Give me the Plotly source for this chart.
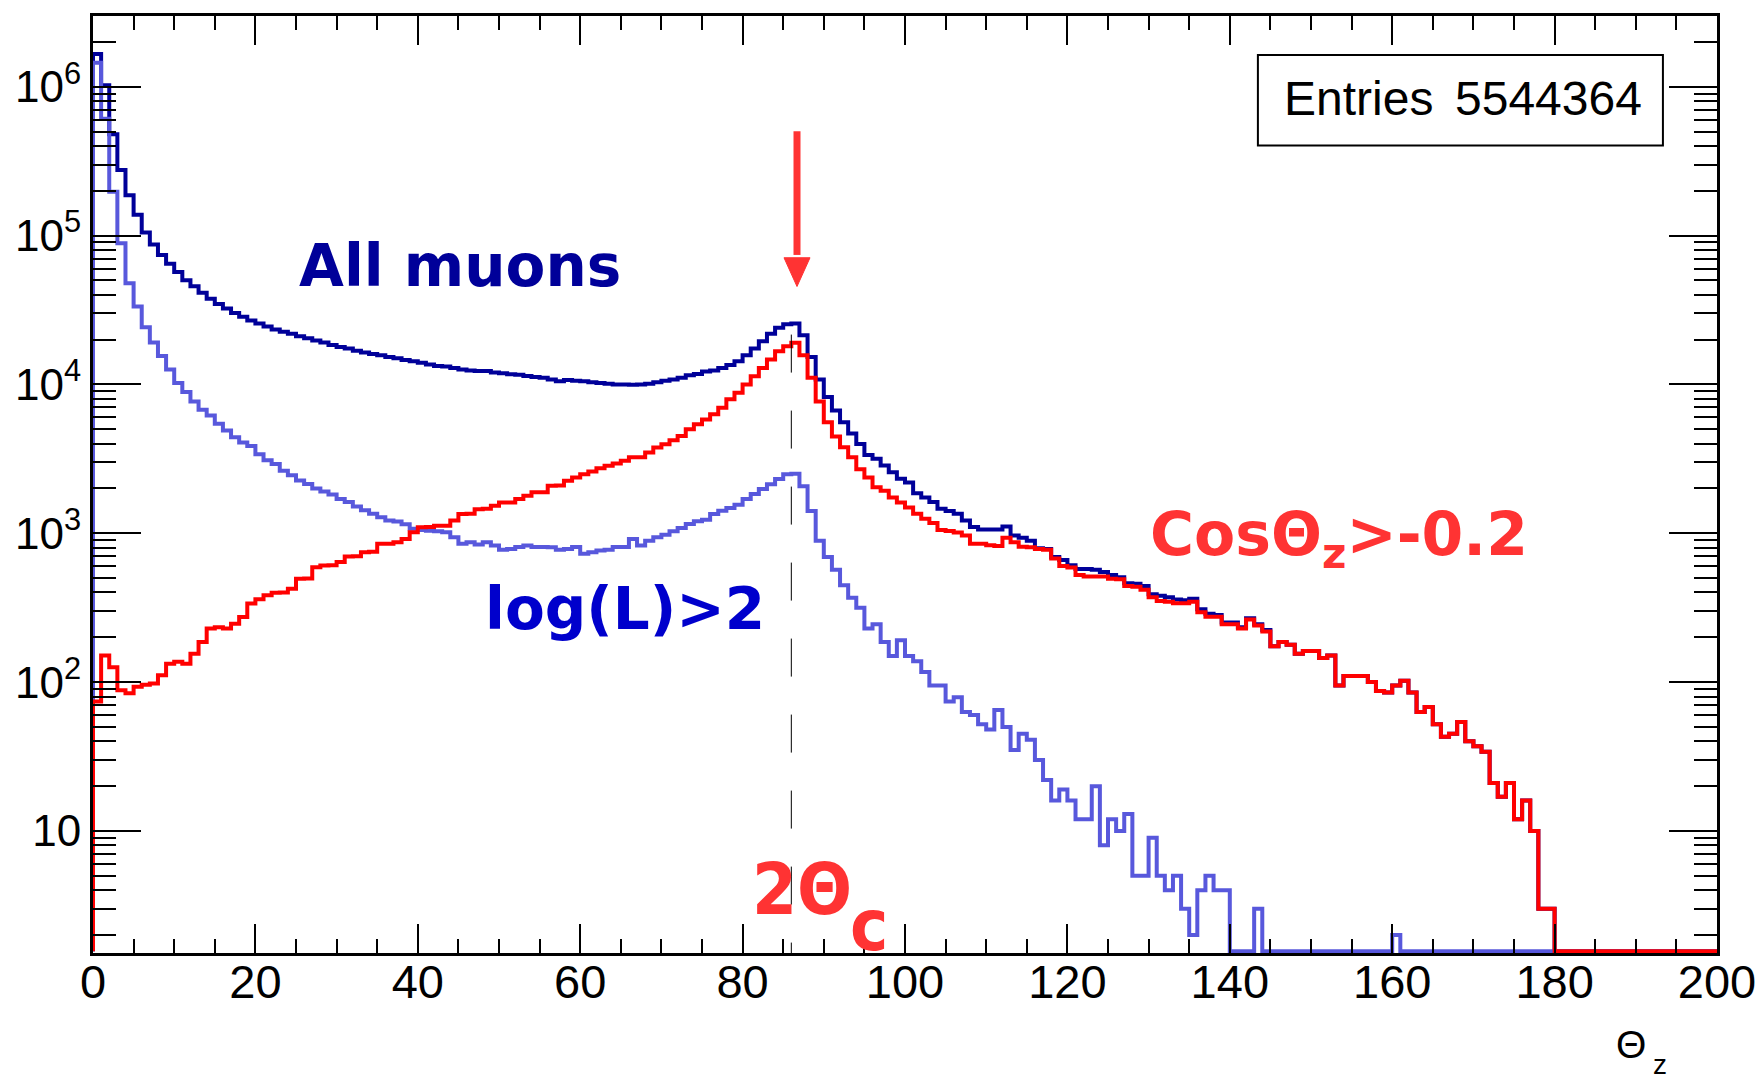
import numpy as np
import plotly.graph_objects as go

# ---------------- data (1-degree bins from 0 to 200) ----------------
theta_min = 0
theta_max = 200
n_bins = 200

# All muons (dark blue)
all_muons = [
    1660000, 1023000, 478600, 275400, 186200, 138000, 104700, 87100, 74100, 64600,
    56900, 50100, 45700, 41200, 37600, 34700, 32400, 30200, 28500, 26900,
    25700, 24500, 23400, 22600, 21900, 21100, 20400, 19700, 19100, 18400,
    17800, 17400, 16800, 16400, 16000, 15700, 15300, 15000, 14600, 14300,
    14000, 13600, 13300, 13200, 12900, 12600, 12400, 12300, 12300, 12000,
    11900, 11700, 11600, 11400, 11200, 11100, 10800, 10500, 10700, 10600,
    10500, 10350, 10200, 10100, 10000, 10000, 9950, 10000, 10100, 10350,
    10600, 10800, 11100, 11500, 11750, 12200, 12400, 12900, 13500, 14300,
    15700, 17400, 19500, 21900, 24000, 25400, 25700, 21400, 15300, 10800,
    8220, 6680, 5560, 4680, 3980, 3350, 3160, 2850, 2570, 2320,
    2190, 1860, 1740, 1620, 1460, 1410, 1350, 1220, 1100, 1060,
    1060, 1060, 1110, 966, 933, 891, 794, 785, 692, 661,
    610, 575, 575, 569, 550, 525, 507, 462, 457, 442,
    389, 380, 372, 359, 355, 363, 309, 288, 282, 251,
    251, 234, 269, 245, 224, 174, 186, 178, 155, 162,
    162, 145, 151, 95, 110, 110, 110, 100, 87, 85,
    95, 102, 85, 63, 68, 52, 43, 45, 54, 40,
    37, 34, 21, 17, 21, 12, 16, 10, 3, 3,
    0, 0, 0, 0, 0, 0, 0, 0, 0, 0,
    0, 0, 0, 0, 0, 0, 0, 0, 0, 0,
]

# log(L)>2 (light blue)
logl_cut = [
    1450000, 610000, 197000, 88700, 47900, 33400, 24200, 19100, 15500, 12600,
    10200, 8900, 7670, 6760, 6170, 5430, 4900, 4420, 4070, 3850,
    3390, 3090, 2920, 2630, 2450, 2260, 2140, 2000, 1905, 1820,
    1700, 1620, 1510, 1430, 1350, 1280, 1220, 1200, 1150, 1070,
    1050, 1040, 1030, 1016, 940, 851, 871, 839, 871, 828,
    776, 785, 807, 828, 807, 807, 804, 776, 785, 807,
    728, 746, 766, 776, 807, 807, 916, 828, 891, 940,
    977, 1030, 1086, 1156, 1202, 1230, 1349, 1419, 1479, 1556,
    1698, 1832, 1982, 2138, 2312, 2495, 2512, 2065, 1413, 891,
    692, 569, 447, 369, 316, 229, 245, 186, 150, 191,
    150, 138, 117, 95, 95, 74, 79, 63, 60, 52,
    48, 65, 50, 35, 45, 41, 30, 22, 16, 19,
    16, 12, 12, 20, 8, 12, 10, 13, 5, 5,
    9, 5, 4, 5, 3, 2, 4, 5, 4, 4,
    0, 0, 0, 3, 0, 0, 0, 0, 0, 0,
    0, 0, 0, 0, 0, 0, 0, 0, 0, 0,
    2, 0, 0, 0, 0, 0, 0, 0, 0, 0,
    0, 0, 0, 0, 0, 0, 0, 0, 0, 0,
    0, 0, 0, 0, 0, 0, 0, 0, 0, 0,
    0, 0, 0, 0, 0, 0, 0, 0, 0, 0,
]

# CosTheta_z > -0.2 (red)
cos_cut = [
    74, 151, 126, 88, 84, 93, 96, 98, 111, 133,
    137, 133, 155, 186, 229, 234, 229, 247, 274, 337,
    360, 383, 398, 400, 424, 494, 496, 592, 607, 610,
    640, 698, 700, 746, 750, 849, 851, 871, 916, 1016,
    1097, 1100, 1122, 1124, 1216, 1349, 1350, 1450, 1462, 1531,
    1611, 1612, 1698, 1786, 1884, 1885, 2089, 2090, 2254, 2371,
    2495, 2600, 2735, 2838, 2944, 3069, 3236, 3240, 3491, 3767,
    3963, 4217, 4508, 5000, 5395, 5821, 6295, 6966, 7943, 8790,
    10000, 11350, 12910, 14690, 16710, 18030, 19010, 15670, 11070, 7670,
    5560, 4470, 3780, 3240, 2690, 2370, 2040, 1930, 1740, 1610,
    1490, 1350, 1250, 1170, 1050, 1035, 1010, 966, 851, 851,
    832, 822, 933, 871, 813, 804, 785, 776, 676, 603,
    589, 525, 513, 513, 513, 495, 490, 442, 437, 417,
    372, 351, 347, 339, 339, 347, 295, 275, 275, 245,
    245, 229, 263, 240, 219, 174, 186, 178, 155, 162,
    162, 145, 151, 95, 110, 110, 110, 100, 87, 85,
    95, 102, 85, 63, 68, 52, 43, 45, 54, 40,
    37, 34, 21, 17, 21, 12, 16, 10, 3, 3,
    0, 0, 0, 0, 0, 0, 0, 0, 0, 0,
    0, 0, 0, 0, 0, 0, 0, 0, 0, 0,
]

entries = 5544364
x_tick_vals = [0, 20, 40, 60, 80, 100, 120, 140, 160, 180, 200]
y_tick_vals = [10, 100, 1000, 10000, 100000, 1000000]
y_tick_text = ["10", "10<sup>2</sup>", "10<sup>3</sup>", "10<sup>4</sup>",
               "10<sup>5</sup>", "10<sup>6</sup>"]
two_theta_c = 86.0      # dashed marker position (deg)
arrow_theta = 86.7      # red arrow position (deg)

# ---------------- styling ----------------
NAVY = "#000099"
LIGHT = "#5858dc"
RED = "#ff0000"
TXT_RED = "#ff3333"
TXT_BLUE = "#0000cc"

ylog_lo, ylog_hi = 0.18, 6.475
floor_val = 10 ** (ylog_lo + 0.012)
bw = (theta_max - theta_min) / n_bins


def step(vals):
    v = np.maximum(np.asarray(vals, float), floor_val)
    x = np.concatenate([[theta_min], theta_min + bw * np.arange(n_bins), [theta_max]])
    y = np.concatenate([[floor_val], v, [v[-1]]])
    return x, y


fig = go.Figure()
for vals, col in [(all_muons, NAVY), (logl_cut, LIGHT), (cos_cut, RED)]:
    x, y = step(vals)
    fig.add_trace(go.Scatter(x=x, y=y, mode="lines", line_shape="hv",
                             line=dict(color=col, width=4), hoverinfo="skip"))

minor_y = [k * 10 ** d for d in range(0, 7) for k in range(2, 10)
           if ylog_lo < np.log10(k * 10 ** d) < ylog_hi]

HELV = "Liberation Sans, Arial, sans-serif"

fig.update_layout(
    width=1755, height=1072, autosize=False,
    margin=dict(l=85, r=46, t=5, b=126.5, pad=0),
    paper_bgcolor="white", plot_bgcolor="white", showlegend=False,
    xaxis=dict(range=[theta_min, theta_max], tickmode="array", tickvals=x_tick_vals,
               ticktext=[str(v) for v in x_tick_vals],
               ticks="inside", ticklen=29, tickwidth=2, tickcolor="black",
               showline=True, linecolor="black", linewidth=3, mirror="allticks",
               showgrid=False, zeroline=False, ticklabelstandoff=-14,
               tickfont=dict(family=HELV, size=47, color="black"),
               minor=dict(dtick=5, tick0=0, ticks="inside", ticklen=14, tickwidth=2,
                          tickcolor="black", showgrid=False)),
    yaxis=dict(type="log", range=[ylog_lo, ylog_hi], tickmode="array",
               tickvals=y_tick_vals, ticktext=y_tick_text,
               ticks="inside", ticklen=48, tickwidth=2, tickcolor="black",
               showline=True, linecolor="black", linewidth=3, mirror="allticks",
               showgrid=False, zeroline=False,
               tickfont=dict(family=HELV, size=44, color="black"),
               minor=dict(tickmode="array", tickvals=minor_y, ticks="inside", ticklen=23,
                          tickwidth=2, tickcolor="black", showgrid=False)),
)

# dashed 2Theta_c marker (pattern starts at the top)
fig.add_shape(type="line", xref="x", yref="paper", x0=two_theta_c, x1=two_theta_c,
              y0=0.66, y1=0, line=dict(color="black", width=1, dash="38px,38px"))

# red arrow: shaft + head
fig.add_shape(type="line", xref="x", yref="paper", x0=arrow_theta, x1=arrow_theta,
              y0=0.745, y1=0.877, line=dict(color=TXT_RED, width=7))
fig.add_shape(type="path", xref="x", yref="paper",
              path=f"M {arrow_theta-1.6},0.742 L {arrow_theta+1.6},0.742 L {arrow_theta},0.7113 Z",
              fillcolor=TXT_RED, line=dict(color=TXT_RED, width=1))

# stats box
fig.add_shape(type="rect", xref="paper", yref="paper", x0=0.7173, x1=0.9667,
              y0=0.8618, y1=0.9585, line=dict(color="black", width=2), fillcolor="white")
statfont = dict(family=HELV, size=48, color="black")
fig.add_annotation(xref="paper", yref="paper", x=0.7321, y=0.912, xanchor="left",
                   yanchor="middle", text="Entries", showarrow=False, font=statfont)
fig.add_annotation(xref="paper", yref="paper", x=0.955, y=0.912, xanchor="right",
                   yanchor="middle", text=str(entries), showarrow=False, font=statfont)

labfont = "DejaVu Sans, sans-serif"
condfont = "DejaVu Sans Condensed, DejaVu Sans, sans-serif"
fig.add_annotation(xref="x", yref="paper", x=45.2, y=0.733, xanchor="center", yanchor="middle",
                   text="All muons", showarrow=False,
                   font=dict(family=labfont, size=58, color=NAVY, weight="bold"))
fig.add_annotation(xref="x", yref="paper", x=65.5, y=0.367, xanchor="center", yanchor="middle",
                   text="log(L)&gt;2", showarrow=False,
                   font=dict(family=labfont, size=58, color=TXT_BLUE, weight="bold"))
fig.add_annotation(xref="x", yref="paper", x=153.4, y=0.442, xanchor="center", yanchor="middle",
                   text="CosΘ<sub>z</sub>&gt;-0.2", showarrow=False,
                   font=dict(family=labfont, size=60, color=TXT_RED, weight="bold"))
fig.add_annotation(xref="x", yref="paper", x=87.3, y=0.068, xanchor="center", yanchor="middle",
                   text="2Θ", showarrow=False, borderpad=0,
                   font=dict(family=condfont, size=72, color=TXT_RED, weight="bold"))
fig.add_annotation(xref="x", yref="paper", x=95.6, y=0.030, xanchor="center", yanchor="middle",
                   text="c", showarrow=False, borderpad=0,
                   font=dict(family=condfont, size=72, color=TXT_RED, weight="bold"))
# x-axis title
fig.add_annotation(xref="paper", yref="paper", x=0.947, y=-0.0973, xanchor="center",
                   yanchor="middle", text="Θ", showarrow=False,
                   font=dict(family=HELV, size=39, color="black"))
fig.add_annotation(xref="paper", yref="paper", x=0.965, y=-0.1185, xanchor="center",
                   yanchor="middle", text="z", showarrow=False,
                   font=dict(family=HELV, size=28, color="black"))

fig.write_html("out.html", config={"displayModeBar": False})
